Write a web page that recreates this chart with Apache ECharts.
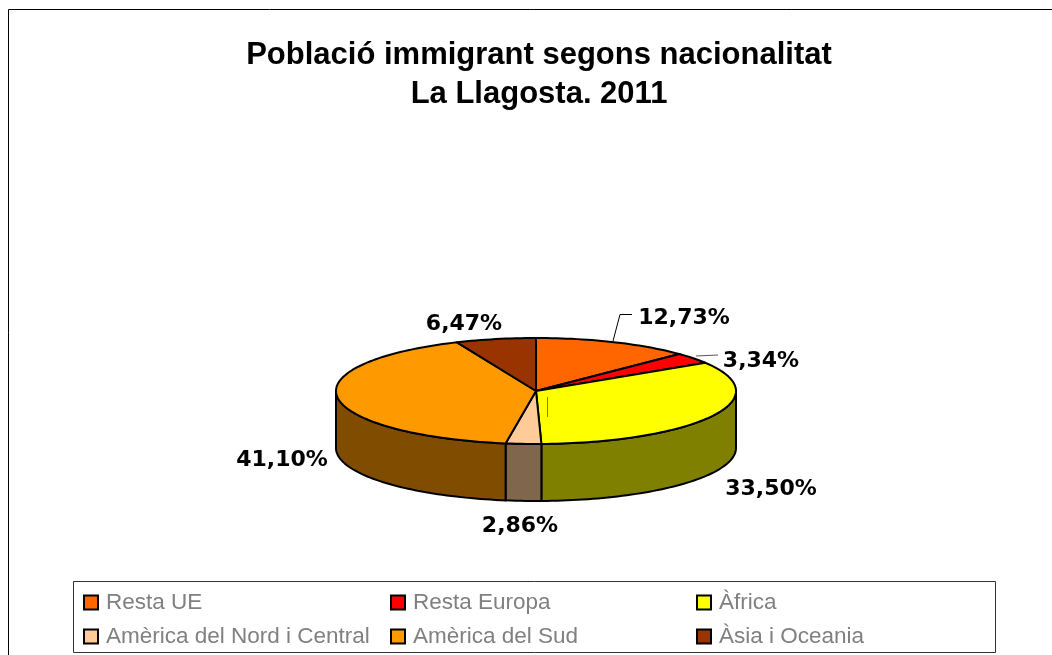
<!DOCTYPE html>
<html>
<head>
<meta charset="utf-8">
<style>
html, body { margin: 0; padding: 0; background: #fff; }
#chart { width: 1052px; height: 655px; }
</style>
<script src="https://cdn.jsdelivr.net/npm/echarts@6/dist/echarts.min.js"></script>
</head>
<body>
<div id="chart"></div>
<script>
var categories = ['Resta UE', 'Resta Europa', 'Àfrica', 'Amèrica del Nord i Central', 'Amèrica del Sud', 'Àsia i Oceania'];
var percents = [12.73, 3.34, 33.50, 2.86, 41.10, 6.47];
var topColors = ['#FF6600', '#FF0000', '#FFFF00', '#FFCC99', '#FF9900', '#993300'];
var sideColors = ['#803300', '#800000', '#808000', '#80664D', '#804D00', '#4D1A00'];

// layout of the squashed pie
var cx = 536, cy = 391, rx = 200, ry = 53, depth = 57;
var labelSpots = [[684, 318], [761, 361], [771, 489], [520, 526], [282, 460], [464, 324]];
var legendSpots = [[83, 591], [390, 591], [696, 591], [83, 625], [390, 625], [696, 625]];

function edgePoint(deg) {
    var t = deg * Math.PI / 180;
    return [cx + rx * Math.sin(t), cy - ry * Math.cos(t)];
}

function arcPoints(from, to) {
    var pts = [];
    var steps = Math.max(2, Math.ceil((to - from) / 1.5));
    for (var i = 0; i <= steps; i++) {
        pts.push(edgePoint(from + (to - from) * i / steps));
    }
    return pts;
}

function renderSlice(params, api) {
    var idx = params.seriesIndex;
    var from = api.value(0) * 3.6, to = api.value(1) * 3.6;
    var children = [];

    // front wall, only between 90 and 270 degrees
    var wallFrom = Math.max(from, 90), wallTo = Math.min(to, 270);
    if (wallTo > wallFrom) {
        var upper = arcPoints(wallFrom, wallTo);
        var lower = upper.map(function(p) { return [p[0], p[1] + depth]; }).reverse();
        children.push({
            type: 'polygon',
            shape: { points: upper.concat(lower) },
            style: { fill: sideColors[idx], stroke: '#000', lineWidth: 2 },
            z2: 1
        });
    }

    children.push({
        type: 'polygon',
        shape: { points: [[cx, cy]].concat(arcPoints(from, to)) },
        style: { fill: topColors[idx], stroke: '#000', lineWidth: 2, lineJoin: 'round' },
        z2: 2
    });

    children.push({
        type: 'text',
        x: labelSpots[idx][0],
        y: labelSpots[idx][1],
        style: {
            text: percents[idx].toFixed(2).replace('.', ',') + '%',
            fill: '#000',
            font: 'bold 22px "DejaVu Sans"',
            align: 'center',
            verticalAlign: 'middle'
        },
        z2: 3
    });

    return { type: 'group', children: children };
}

var running = 0;
var series = categories.map(function(name, i) {
    var start = running;
    running += percents[i];
    return {
        name: name,
        type: 'custom',
        coordinateSystem: 'none',
        silent: true,
        itemStyle: { color: topColors[i] },
        data: [[start, running]],
        renderItem: renderSlice
    };
});

var legends = categories.map(function(name, i) {
    return {
        data: [name],
        left: legendSpots[i][0],
        top: legendSpots[i][1],
        padding: 0,
        selectedMode: false,
        icon: 'rect',
        itemWidth: 14,
        itemHeight: 14,
        itemStyle: { borderColor: '#000', borderWidth: 2 },
        textStyle: { color: '#808080', fontFamily: 'Liberation Sans', fontSize: 22.5, padding: [0, 0, 0, 3] }
    };
});

var myChart = echarts.init(document.getElementById('chart'), null, { renderer: 'canvas' });

myChart.setOption({
    backgroundColor: '#fff',
    animation: false,
    title: {
        text: 'Població immigrant segons nacionalitat\nLa Llagosta. 2011',
        left: 534,
        top: 31,
        textAlign: 'center',
        textStyle: { color: '#000', fontFamily: 'Liberation Sans', fontWeight: 'bold', fontSize: 31, lineHeight: 39 }
    },
    legend: legends,
    series: series,
    graphic: [
        {
            type: 'polyline',
            silent: true,
            shape: { points: [[8.5, 655], [8.5, 9.5], [1052, 9.5]] },
            style: { fill: null, stroke: '#000', lineWidth: 1 }
        },
        {
            type: 'rect',
            silent: true,
            shape: { x: 73.5, y: 581.5, width: 922, height: 71 },
            style: { fill: '#fff', stroke: '#333', lineWidth: 1 }
        },
        {
            type: 'polyline',
            silent: true,
            shape: { points: [[613, 341], [620, 314.5], [632, 314.5]] },
            style: { fill: null, stroke: '#000', lineWidth: 1 }
        },
        {
            type: 'polyline',
            silent: true,
            shape: { points: [[696, 356], [718, 355]] },
            style: { fill: null, stroke: '#555', lineWidth: 1 }
        },
        {
            type: 'line',
            silent: true,
            z: 10,
            shape: { x1: 547.5, y1: 397, x2: 547.5, y2: 417 },
            style: { stroke: '#777', lineWidth: 1 }
        }
    ]
});
</script>
</body>
</html>
